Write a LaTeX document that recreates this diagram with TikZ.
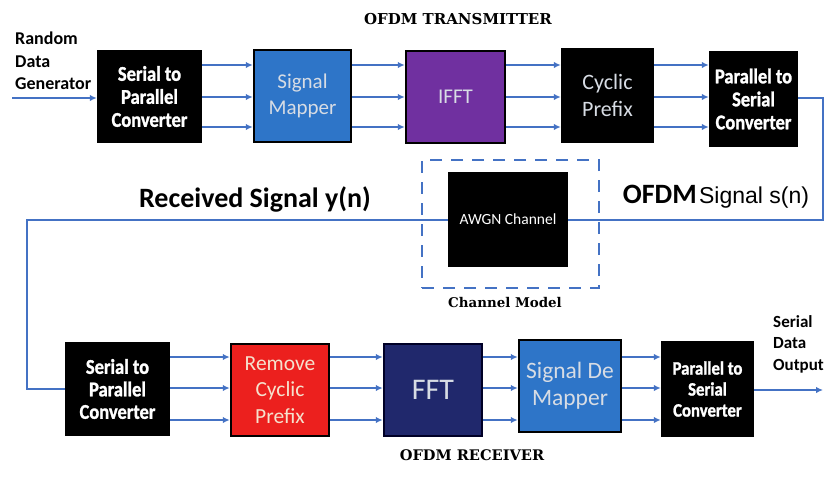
\documentclass[tikz,border=0pt]{standalone}
\usepackage{fontspec}
\setmainfont{Carlito}
\newfontfamily\slab{DejaVu Serif}
\newfontfamily\arialf{Liberation Sans}
\newfontfamily\heavy[FakeStretch=0.88,FakeBold=1.3]{Carlito}
\usetikzlibrary{arrows.meta}
\definecolor{lineblue}{RGB}{68,114,196}
\definecolor{mapblue}{RGB}{46,117,200}
\definecolor{ifftpurple}{RGB}{112,48,160}
\definecolor{rcpred}{RGB}{236,32,30}
\definecolor{fftnavy}{RGB}{32,40,108}
\definecolor{boxtext}{RGB}{215,220,228}
\definecolor{rcptext}{RGB}{245,225,205}
\begin{document}
\begin{tikzpicture}[x=1pt,y=-1pt,
  blackbox/.style={fill=black, inner sep=0pt, align=center, text=white},
  colbox/.style={draw=black, line width=2.5pt, inner sep=0pt, align=center, text=boxtext},
  heavytxt/.style={font={\heavy\bfseries\fontsize{21}{23}\selectfont}},
  plaintxt/.style={font={\fontsize{21}{26.5}\selectfont}},
  conn/.style={draw=lineblue, line width=1.8pt},
  arr/.style={conn, -{Latex[length=7pt,width=6.5pt]}},
  title/.style={font={\slab\bfseries\fontsize{15}{18}\selectfont}}
]
\useasboundingbox (0,0) rectangle (826,483);

% ---------- titles and labels ----------
\node[title] (ttx) at (458,19) {OFDM TRANSMITTER};
\node[title, font={\slab\bfseries\fontsize{14.6}{18}\selectfont}] (trx) at (472,455) {OFDM RECEIVER};
\node[title, font={\slab\bfseries\fontsize{13.4}{16}\selectfont}] (tchm) at (505,302) {Channel Model};

\node[anchor=west, align=left, inner sep=0pt, font={\bfseries\fontsize{18}{22.5}\selectfont}] (rdg) at (15,61) {Random\\Data\\Generator};
\node[anchor=west, align=left, inner sep=0pt, font={\bfseries\fontsize{17}{21.5}\selectfont}] (sdo) at (773,344) {Serial\\Data\\Output};

\node[inner sep=0pt, font={\bfseries\fontsize{28}{30}\selectfont}] (rsig) at (255,199) {Received Signal y(n)};
\node[inner sep=0pt] (osig) at (716,197) {{\bfseries\fontsize{28}{30}\selectfont OFDM} {\arialf\fontsize{23}{26}\selectfont Signal s(n)}};

% ---------- transmitter ----------
\node[blackbox, heavytxt, minimum width=105pt, minimum height=93pt] (s2pt) at (149.5,96.5) {Serial to\\Parallel\\Converter};
\node[colbox, fill=mapblue, plaintxt, minimum width=97pt, minimum height=92pt] (mapt) at (302.5,96) {Signal\\Mapper};
\node[colbox, fill=ifftpurple, plaintxt, minimum width=99pt, minimum height=92pt] (ifft) at (455.5,97) {IFFT};
\node[blackbox, plaintxt, text=boxtext, font={\fontsize{22}{27}\selectfont}, minimum width=93pt, minimum height=95pt] (cpt) at (607.5,95.5) {Cyclic\\Prefix};
\node[blackbox, heavytxt, minimum width=89pt, minimum height=96pt] (p2st) at (753.5,99) {Parallel to\\Serial\\Converter};

% ---------- receiver ----------
\node[blackbox, heavytxt, font={\heavy\bfseries\fontsize{21}{22.5}\selectfont}, minimum width=105pt, minimum height=94pt] (s2pr) at (117.5,389) {Serial to\\Parallel\\Converter};
\node[colbox, fill=rcpred, text=rcptext, font={\fontsize{21.5}{26.5}\selectfont}, minimum width=98pt, minimum height=92pt] (rcp) at (280,390) {Remove\\Cyclic\\Prefix};
\node[colbox, draw=black!85!blue, fill=fftnavy, font={\fontsize{30}{32}\selectfont}, minimum width=98pt, minimum height=92pt] (fft) at (433,390) {FFT};
\node[colbox, fill=mapblue, font={\fontsize{23.5}{27}\selectfont}, minimum width=102pt, minimum height=92pt] (sdm) at (570,386) {Signal De\\Mapper};
\node[blackbox, heavytxt, font={\heavy\bfseries\fontsize{19}{21}\selectfont}, minimum width=93pt, minimum height=96pt] (p2sr) at (707.5,389) {Parallel to\\Serial\\Converter};

% ---------- channel ----------
\node[draw=lineblue, line width=2pt, dash pattern=on 12pt off 9pt, minimum width=177pt, minimum height=128pt, inner sep=0pt] (chm) at (510.5,224) {};

% ---------- helper coordinates ----------
\coordinate (in) at (12,98);
\coordinate (out) at (823,390);
\coordinate (cr) at (823,220);
\coordinate (cl) at (27,220);
\coordinate (ta) at (0,65);
\coordinate (tb) at (0,97);
\coordinate (tc) at (0,127);
\coordinate (ra) at (0,357);
\coordinate (rb) at (0,388);
\coordinate (rc) at (0,420);

% ---------- connectors ----------
\draw[arr] (in) -- (s2pt.west |- in);
\foreach \u/\v in {s2pt/mapt, mapt/ifft, ifft/cpt, cpt/p2st}{
  \foreach \h in {ta,tb,tc}{
    \draw[arr] (\u.east |- \h) -- (\v.west |- \h);
  }
}
\foreach \u/\v in {s2pr/rcp, rcp/fft, fft/sdm, sdm/p2sr}{
  \foreach \h in {ra,rb,rc}{
    \draw[arr] (\u.east |- \h) -- (\v.west |- \h);
  }
}
\draw[arr] (p2sr.east |- out) -- (out);

\node[blackbox, font={\fontsize{15.5}{18}\selectfont}, minimum width=120pt, minimum height=95pt] (awgn) at (508,219.5) {AWGN Channel};

\draw[conn] (p2st.east |- 0,98) -| (cr) -- (awgn.east |- cr);
\draw[conn] (awgn.west |- cl) -- (cl) |- (s2pr.west);
\end{tikzpicture}
\end{document}
